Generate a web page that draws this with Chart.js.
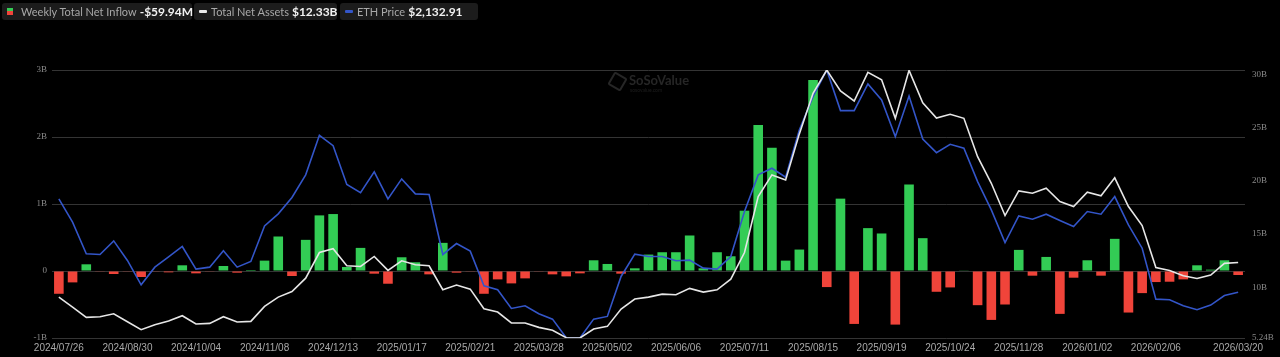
<!DOCTYPE html>
<html>
<head>
<meta charset="utf-8">
<script src="https://cdn.jsdelivr.net/npm/chart.js@4.4.1/dist/chart.umd.min.js"></script>
<style>
  html,body{margin:0;padding:0;background:#000;width:1280px;height:357px;overflow:hidden;}
  #wrap{position:relative;width:1280px;height:357px;}
  canvas{position:absolute;left:0;top:0;}
  .lg{position:absolute;top:3px;height:17px;background:#1c1c1c;border-radius:3px;font-family:Lato,"Liberation Sans",sans-serif;font-size:11px;color:#a8a8a8;line-height:17px;white-space:nowrap;}
  .lg b{color:#f2f2f2;font-size:12px;font-weight:700;margin-left:3px;}
  .ic{position:absolute;}
  .wm{position:absolute;left:629px;top:72px;font-family:Lato,"Liberation Sans",sans-serif;font-weight:700;font-size:13px;color:#262626;}
  .wm2{position:absolute;left:630px;top:87px;font-family:Lato,"Liberation Sans",sans-serif;font-size:5px;color:#1e1e1e;}
  .logo{position:absolute;left:610px;top:74px;width:11px;height:11px;border:2px solid #262626;border-radius:2px;transform:rotate(30deg);}
</style>
</head>
<body>
<div id="wrap">
  <canvas id="c" width="1280" height="357"></canvas>
  <div class="logo"></div>
  <div class="wm">SoSoValue</div>
  <div class="wm2">sosovalue.com</div>
  <div class="lg" style="left:2px;width:190px;">
    <span class="ic" style="left:5px;top:5px;width:6px;height:3px;background:#33cc55;"></span>
    <span class="ic" style="left:5px;top:8px;width:6px;height:4px;background:#f0443a;"></span>
    <span style="position:absolute;left:19px;">Weekly Total Net Inflow<b>-$59.94M</b></span>
  </div>
  <div class="lg" style="left:194px;width:143px;">
    <span class="ic" style="left:5px;top:7px;width:8px;height:3px;background:#eaeaea;border-radius:1px;"></span>
    <span style="position:absolute;left:17px;">Total Net Assets<b>$12.33B</b></span>
  </div>
  <div class="lg" style="left:340px;width:138px;">
    <span class="ic" style="left:5px;top:7px;width:8px;height:3px;background:#3355c8;border-radius:1px;"></span>
    <span style="position:absolute;left:17px;">ETH Price<b>$2,132.91</b></span>
  </div>
</div>
<script>
const dates = [
 "2024/07/26","2024/08/02","2024/08/09","2024/08/16","2024/08/23","2024/08/30","2024/09/06","2024/09/13","2024/09/20","2024/09/27",
 "2024/10/04","2024/10/11","2024/10/18","2024/10/25","2024/11/01","2024/11/08","2024/11/15","2024/11/22","2024/11/29","2024/12/06",
 "2024/12/13","2024/12/20","2024/12/27","2025/01/03","2025/01/10","2025/01/17","2025/01/24","2025/01/31","2025/02/07","2025/02/14",
 "2025/02/21","2025/02/28","2025/03/07","2025/03/14","2025/03/21","2025/03/28","2025/04/04","2025/04/11","2025/04/18","2025/04/25",
 "2025/05/02","2025/05/09","2025/05/16","2025/05/23","2025/05/30","2025/06/06","2025/06/13","2025/06/20","2025/06/27","2025/07/04",
 "2025/07/11","2025/07/18","2025/07/25","2025/08/01","2025/08/08","2025/08/15","2025/08/22","2025/08/29","2025/09/05","2025/09/12",
 "2025/09/19","2025/09/26","2025/10/03","2025/10/10","2025/10/17","2025/10/24","2025/10/31","2025/11/07","2025/11/14","2025/11/21",
 "2025/11/28","2025/12/05","2025/12/12","2025/12/19","2025/12/26","2026/01/02","2026/01/09","2026/01/16","2026/01/23","2026/01/30",
 "2026/02/06","2026/02/13","2026/02/20","2026/02/27","2026/03/06","2026/03/13","2026/03/20"
];
// Weekly total net inflow, billions USD
const netInflow = [
 -0.34,-0.17,0.10,-0.01,-0.045,-0.01,-0.09,-0.005,-0.02,0.085,
 -0.035,-0.005,0.075,-0.025,0.015,0.155,0.515,-0.075,0.465,0.83,
 0.85,0.06,0.345,-0.04,-0.19,0.205,0.13,-0.05,0.42,-0.025,
 -0.005,-0.34,-0.125,-0.185,-0.11,-0.005,-0.05,-0.08,-0.035,0.16,
 0.105,-0.04,0.04,0.245,0.28,0.28,0.53,0.04,0.28,0.22,
 0.90,2.18,1.84,0.155,0.32,2.85,-0.24,1.08,-0.79,0.64,
 0.56,-0.80,1.29,0.49,-0.31,-0.245,0.01,-0.51,-0.73,-0.50,
 0.315,-0.07,0.21,-0.64,-0.10,0.16,-0.07,0.48,-0.62,-0.33,
 -0.165,-0.16,-0.125,0.085,0.02,0.16,-0.05994
];
// Total net assets, billions USD
const netAssets = [
 9.08,8.14,7.18,7.24,7.52,6.77,6.02,6.49,6.83,7.33,
 6.55,6.61,7.24,6.74,6.80,8.21,9.08,9.61,10.86,13.27,
 13.62,12.02,11.96,12.90,11.59,12.49,12.12,12.02,9.77,10.21,
 9.83,7.99,7.68,6.65,6.65,6.24,5.96,5.27,5.24,6.08,
 6.33,7.96,8.90,9.08,9.36,9.30,9.90,9.55,9.77,10.77,
 13.27,18.53,20.56,20.09,24.41,28.22,30.41,28.44,27.50,30.19,
 29.50,25.87,30.38,27.32,25.90,26.25,25.87,22.27,19.77,16.74,
 19.06,18.84,19.31,18.06,17.59,18.93,18.59,20.28,17.59,15.80,
 11.86,11.58,11.08,10.83,11.15,12.25,12.33
];
// ETH price, USD
const ethPrice = [
 3265,2983,2599,2591,2756,2518,2223,2437,2562,2688,
 2413,2437,2635,2437,2506,2938,3084,3282,3557,4038,
 3912,3441,3342,3593,3266,3508,3326,3318,2591,2724,
 2631,2211,2162,1936,1968,1871,1806,1580,1577,1806,
 1839,2324,2595,2566,2566,2514,2522,2425,2413,2566,
 3112,3557,3637,3528,4102,4506,4830,4337,4337,4660,
 4466,4021,4514,3993,3827,3928,3880,3476,3132,2736,
 3059,3019,3080,3003,2930,3112,3080,3294,2950,2667,
 2049,2041,1968,1920,1976,2093,2132.91
];
const leftTicks = [-1,0,1,2,3];
const rightTicks = [5.24,10,15,20,25,30];

const GREEN = '#33cc55', RED = '#f0443a';
const serif = {family:'"Liberation Serif", "DejaVu Serif", serif', size:9};

new Chart(document.getElementById('c'), {
  data: {
    labels: dates,
    datasets: [
      {type:'line', label:'Total Net Assets', data: netAssets, yAxisID:'yR',
       borderColor:'#e6e6e6', borderWidth:1.6, pointRadius:0, tension:0, order:1},
      {type:'line', label:'ETH Price', data: ethPrice, yAxisID:'yE',
       borderColor:'#3355c8', borderWidth:1.6, pointRadius:0, tension:0, order:2},
      {type:'bar', label:'Weekly Total Net Inflow', data: netInflow, yAxisID:'yL',
       backgroundColor: ctx => (ctx.raw >= 0 ? GREEN : RED),
       barPercentage:0.7, categoryPercentage:1.0, order:3}
    ]
  },
  options: {
    responsive:false, animation:false, devicePixelRatio:1,
    layout:{padding:{top:70,left:0,right:0,bottom:0}},
    plugins:{legend:{display:false}, tooltip:{enabled:false}},
    scales:{
      x:{
        offset:true,
        grid:{display:false, drawTicks:false}, border:{display:false},
        afterFit: s => { s.height = 19; },
        ticks:{
          autoSkip:false, maxRotation:0, minRotation:0, padding:4,
          color:'#a9a9a9', font:{family:'"Liberation Sans", Arial, sans-serif', size:10},
          callback: function(v, i){ const n = dates.length; return ((i % 5 === 0 && i !== n - 2) || i === n - 1) ? dates[i] : ''; }
        }
      },
      yL:{
        position:'left', min:-1, max:3,
        afterBuildTicks: s => { s.ticks = leftTicks.map(v => ({value:v})); },
        afterFit: s => { s.width = 52; },
        grid:{color:'#343434', lineWidth:1, drawTicks:false}, border:{display:false},
        ticks:{padding:5, color:'#8a8a8a', font:serif,
          callback: v => (v === 0 ? '0' : v + 'B')}
      },
      yR:{
        position:'right', min:5.24, max:30.41,
        afterBuildTicks: s => { s.ticks = rightTicks.map(v => ({value:v})); },
        afterFit: s => { s.width = 35; },
        grid:{drawOnChartArea:false, drawTicks:false}, border:{display:false},
        ticks:{padding:7, color:'#8a8a8a', font:serif, callback: v => v + 'B'}
      },
      yE:{display:false, min:1577, max:4830}
    }
  }
});
</script>
</body>
</html>
